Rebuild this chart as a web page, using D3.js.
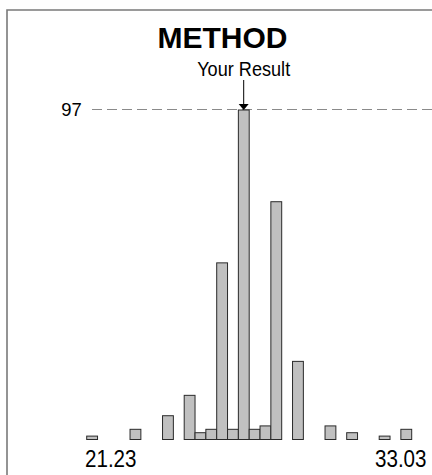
<!DOCTYPE html>
<html>
<head>
<meta charset="utf-8">
<script src="https://cdn.jsdelivr.net/npm/d3@7"></script>
<style>
  html, body { margin: 0; padding: 0; background: #fff; }
  svg { display: block; }
</style>
</head>
<body>
<svg id="chart" width="432" height="475"></svg>
<script>
// ---- data ----
const title = "METHOD";
const markerLabel = "Your Result";
const rangeMin = 21.23;
const rangeMax = 33.03;
const binCounts = [1, 0, 0, 0, 3, 0, 0, 7, 0, 13, 2, 3, 52, 3, 97, 3, 4, 70, 0, 23, 0, 0, 4, 0, 2, 0, 0, 1, 0, 3];
const yourResult = 26.93;
const peakValue = 97;
const axisLabels = ["21.23", "33.03"];

// ---- drawing ----
const svg = d3.select("#chart");
const W = 432, H = 475;
const nBins = binCounts.length;
const binW = (rangeMax - rangeMin) / nBins;
const bins = binCounts.map((c, i) => ({ x0: rangeMin + i * binW, x1: rangeMin + (i + 1) * binW, count: c }));

const x = d3.scaleLinear().domain([rangeMin, rangeMax]).range([86.7, 411.7]);
const y = d3.scaleLinear().domain([0, peakValue]).range([439.5, 110]);

const font = "'Liberation Sans', Arial, Helvetica, sans-serif";

// frame (top + left edges)
svg.append("path")
  .attr("d", `M7,${H} L7,10 L${W},10`)
  .attr("fill", "none")
  .attr("stroke", "#7a7a7a")
  .attr("stroke-width", 1.6);

// title
svg.append("text")
  .attr("x", 222.5).attr("y", 47.5)
  .attr("text-anchor", "middle")
  .attr("font-family", font)
  .attr("font-weight", "bold")
  .attr("font-size", 30)
  .attr("fill", "#000")
  .text(title);

// dashed reference line at peak
svg.append("line")
  .attr("x1", 92).attr("x2", W)
  .attr("y1", y(peakValue) - 0.5).attr("y2", y(peakValue) - 0.5)
  .attr("stroke", "#8a8a8a")
  .attr("stroke-width", 1.2)
  .attr("stroke-dasharray", "10,5");

svg.append("text")
  .attr("x", 81.7).attr("y", y(peakValue) + 5.8)
  .attr("text-anchor", "end")
  .attr("font-family", font)
  .attr("font-size", 19)
  .attr("textLength", 20.5)
  .attr("lengthAdjust", "spacingAndGlyphs")
  .attr("fill", "#000")
  .text(String(peakValue));

// bars
svg.append("g").selectAll("rect")
  .data(bins.filter(d => d.count > 0))
  .join("rect")
  .attr("x", d => x(d.x0))
  .attr("y", d => y(d.count))
  .attr("width", d => x(d.x1) - x(d.x0))
  .attr("height", d => y(0) - y(d.count))
  .attr("fill", "#c0c0c0")
  .attr("stroke", "#2a2a2a")
  .attr("stroke-width", 1);

// your result marker
const rx = x(yourResult);
svg.append("line")
  .attr("x1", rx).attr("x2", rx)
  .attr("y1", 80).attr("y2", 104)
  .attr("stroke", "#000").attr("stroke-width", 1);
svg.append("path")
  .attr("d", `M${rx - 5},${y(peakValue) - 6} L${rx + 5},${y(peakValue) - 6} L${rx},${y(peakValue)} Z`)
  .attr("fill", "#000");
svg.append("text")
  .attr("x", rx - 46.5).attr("y", 75.7)
  .attr("text-anchor", "start")
  .attr("font-family", font)
  .attr("font-size", 21)
  .attr("textLength", 93)
  .attr("lengthAdjust", "spacingAndGlyphs")
  .attr("fill", "#000")
  .text(markerLabel);

// range labels
svg.append("text")
  .attr("x", x(rangeMin) - 1.7).attr("y", 466.7)
  .attr("text-anchor", "start")
  .attr("font-family", font)
  .attr("font-size", 23)
  .attr("textLength", 51.5)
  .attr("lengthAdjust", "spacingAndGlyphs")
  .attr("fill", "#000")
  .text(axisLabels[0]);
svg.append("text")
  .attr("x", x(rangeMax) + 14.8 - 51.5).attr("y", 466.7)
  .attr("text-anchor", "start")
  .attr("font-family", font)
  .attr("font-size", 23)
  .attr("textLength", 51.5)
  .attr("lengthAdjust", "spacingAndGlyphs")
  .attr("fill", "#000")
  .text(axisLabels[1]);
</script>
</body>
</html>
